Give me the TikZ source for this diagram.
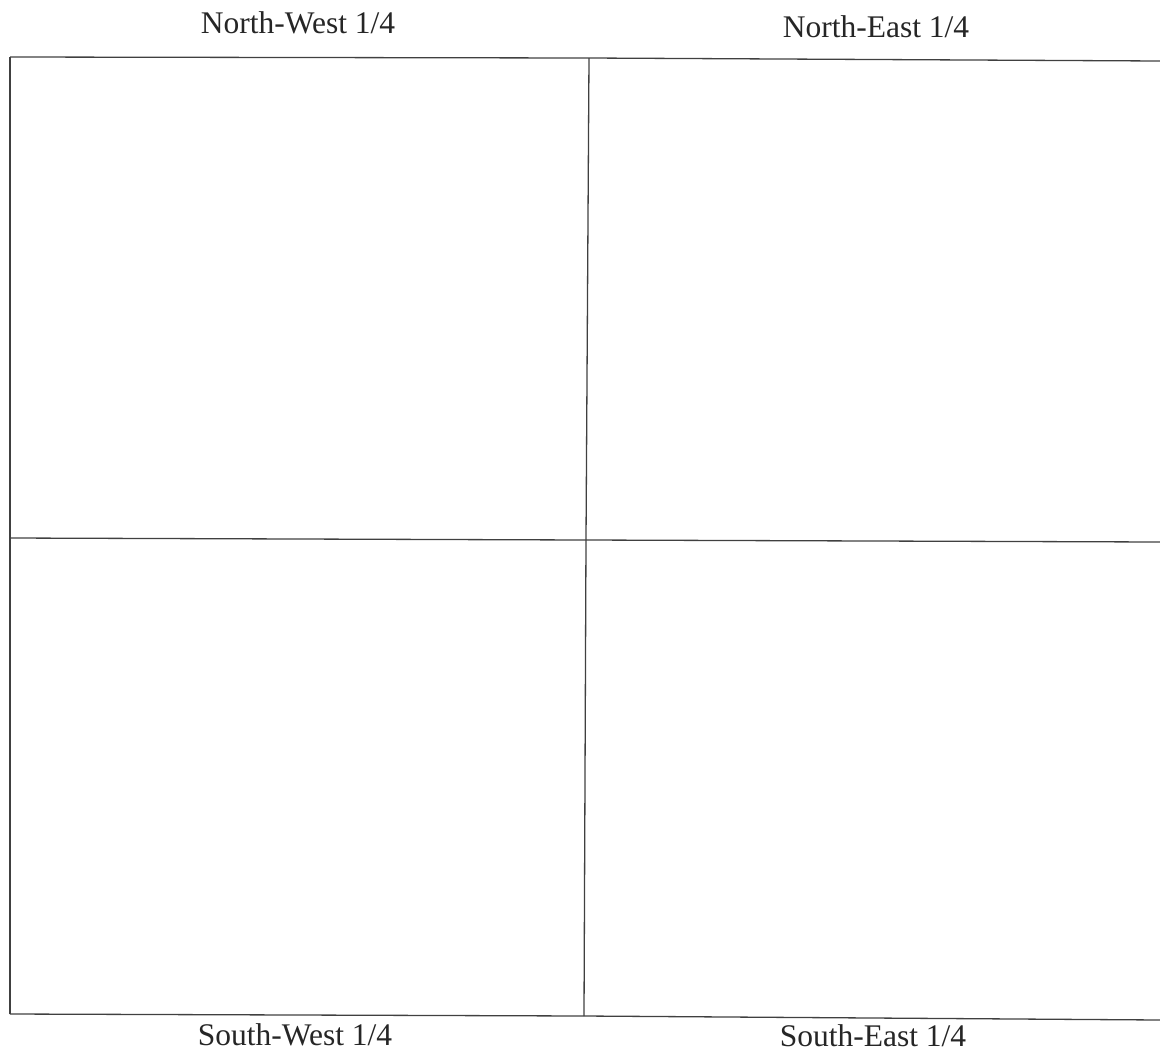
\documentclass[tikz,border=0pt]{standalone}
\usepackage{fontspec}
\setmainfont{Liberation Serif}
\begin{document}
\begin{tikzpicture}[x=1pt,y=-1pt,
  gridline/.style={draw=black!75,line width=1.3pt},
  lbl/.style={anchor=base,inner sep=0pt,text=black!85,font=\fontsize{31.5}{36}\selectfont}]
\useasboundingbox (0,0) rectangle (1160,1053);
\coordinate (TL) at (10,57);
\coordinate (TM) at (589,58);
\coordinate (TR) at (1160,61);
\coordinate (ML) at (10,538);
\coordinate (MM) at (586,540);
\coordinate (MR) at (1160,542);
\coordinate (BL) at (10,1014);
\coordinate (BM) at (584,1016);
\coordinate (BR) at (1160,1020);
\draw[gridline] (TL) -- (TM) -- (TR);
\draw[gridline] (ML) -- (MM) -- (MR);
\draw[gridline] (BL) -- (BM) -- (BR);
\draw[gridline] (TL) -- (ML) -- (BL);
\draw[gridline] (TM) -- (MM) -- (BM);
\node[lbl] (nw) at (298,33) {North-West 1/4};
\node[lbl] (ne) at (876,37) {North-East 1/4};
\node[lbl] (sw) at (295,1045) {South-West 1/4};
\node[lbl] (se) at (873,1046) {South-East 1/4};
\end{tikzpicture}
\end{document}
